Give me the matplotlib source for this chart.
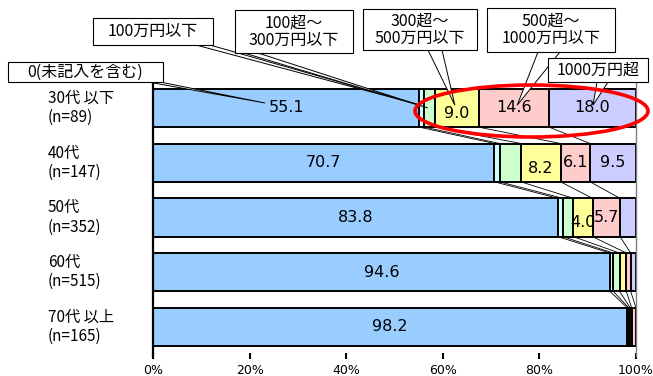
import matplotlib
matplotlib.use("Agg")
import matplotlib.pyplot as plt
from matplotlib.patches import Rectangle, Polygon, Ellipse
from matplotlib.transforms import blended_transform_factory
import numpy as np

plt.rcParams['font.family'] = ['Noto Sans CJK JP', 'DejaVu Sans']

# age groups (top to bottom)
groups = ['30代 以下\n(n=89)', '40代\n(n=147)', '50代\n(n=352)',
          '60代\n(n=515)', '70代 以上\n(n=165)']

# income brackets, share of respondents (%)
brackets = ['0(未記入を含む)', '100万円以下', '100超～\n300万円以下',
            '300超～\n500万円以下', '500超～\n1000万円以下', '1000万円超']
zero_or_blank = [55.1, 70.7, 83.8, 94.6, 98.2]
upto_100 = [1.1, 1.1, 1.0, 0.7, 0.3]
from_100_to_300 = [2.2, 4.4, 2.2, 1.3, 0.3]
from_300_to_500 = [9.0, 8.2, 4.0, 1.4, 0.3]
from_500_to_1000 = [14.6, 6.1, 5.7, 0.9, 0.9]
over_1000 = [18.0, 9.5, 3.3, 1.1, 0.0]

colors = ['#99CCFF', '#CCFFFF', '#CCFFCC', '#FFFF99', '#FFCCCC', '#CCCCFF']

series = np.array([zero_or_blank, upto_100, from_100_to_300,
                   from_300_to_500, from_500_to_1000, over_1000])
cum = np.vstack([np.zeros(len(groups)), np.cumsum(series, axis=0)])

W, H = 653, 376
fig = plt.figure(figsize=(W / 100, H / 100), dpi=100)
ax = fig.add_axes([153 / W, (H - 356) / H, (636 - 153) / W, (356 - 80) / H])


def px(x, y):
    # figure pixels (origin top-left) -> figure fraction
    return (x / W, 1 - y / H)


ypos = np.arange(len(groups))
bar_h = 0.7
for k in range(len(series)):
    ax.barh(ypos, series[k], left=cum[k], height=bar_h, color=colors[k],
            edgecolor='black', linewidth=1.4, zorder=2)

# series lines between neighbouring bars
for i in range(len(groups) - 1):
    for k in range(1, len(series)):
        ax.plot([cum[k][i], cum[k][i + 1]],
                [i + bar_h / 2, i + 1 - bar_h / 2],
                color='black', lw=0.6, zorder=1)

# value labels
for k in range(len(series)):
    if k not in (0, 3, 4, 5):
        continue
    for i in range(len(groups)):
        v = series[k][i]
        if v < 4:
            continue
        dy = 0.1 if k == 3 else 0.0
        ax.text(cum[k][i] + v / 2, i + dy, f'{v:.1f}', ha='center', va='center',
                fontsize=11.5, family='DejaVu Sans', zorder=5)

ax.set_xlim(0, 100)
ax.set_ylim(4.53, -0.51)
ax.set_xticks(np.arange(0, 101, 20))
ax.set_xticklabels([f'{t}%' for t in range(0, 101, 20)], family='DejaVu Sans', fontsize=9)
ax.tick_params(axis='x', direction='inout', length=4.5, width=1.5, pad=3.5)
ax.set_yticks([])
for s in ('top', 'bottom'):
    ax.spines[s].set_visible(False)
ax.spines['right'].set_color('#808080')
ax.spines['right'].set_linewidth(1)
ax.spines['left'].set_linewidth(1.6)

tr = blended_transform_factory(fig.transFigure, ax.transData)
for i, g in enumerate(groups):
    ax.text(48 / W, i, g, transform=tr, ha='left', va='center',
            fontsize=11, linespacing=1.15)

# callouts: box (x0, y0, x1, y1 in px), wedge base (xa, xb, y in px), tip (data)
boxes = [(8, 62, 163, 82), (93, 18, 213, 45), (235, 10, 353, 53),
         (363, 9, 477, 50), (487, 8, 615, 52), (548, 58, 648, 82)]
bases = [(148, 160, 82), (196, 210, 45), (244, 258, 53),
         (428, 442, 50), (538, 560, 52), (597, 608, 82)]
tips = [(23.2, -0.09), (55.4, -0.05), (56.9, 0.0),
        (62.5, -0.05), (75.4, -0.05), (91.1, -0.05)]

to_fig = fig.transFigure.inverted()
z = 10
for label, (x0, y0, x1, y1), (xa, xb, yb), tip in zip(brackets, boxes, bases, tips):
    tip_f = to_fig.transform(ax.transData.transform(tip))
    wedge = Polygon([px(xa, yb), px(xb, yb), tip_f], closed=True,
                    facecolor='white', edgecolor='black', lw=0.7,
                    transform=fig.transFigure, zorder=z)
    fig.add_artist(wedge)
    bx, by = px(x0, y1)
    box = Rectangle((bx, by), (x1 - x0) / W, (y1 - y0) / H, facecolor='white',
                    edgecolor='black', lw=0.8, transform=fig.transFigure, zorder=z + 1)
    fig.add_artist(box)
    cx, cy = px((x0 + x1) / 2, (y0 + y1) / 2)
    fig.text(cx, cy, label, ha='center', va='center', fontsize=11.5,
             linespacing=1.05, zorder=z + 2)
    z += 3

ex, ey = px(531.5, 111)
fig.add_artist(Ellipse((ex, ey), 233 / W, 52 / H, fill=False, edgecolor='#FF0000',
                       lw=2.6, transform=fig.transFigure, zorder=50))

fig.savefig('out.png', dpi=100)
